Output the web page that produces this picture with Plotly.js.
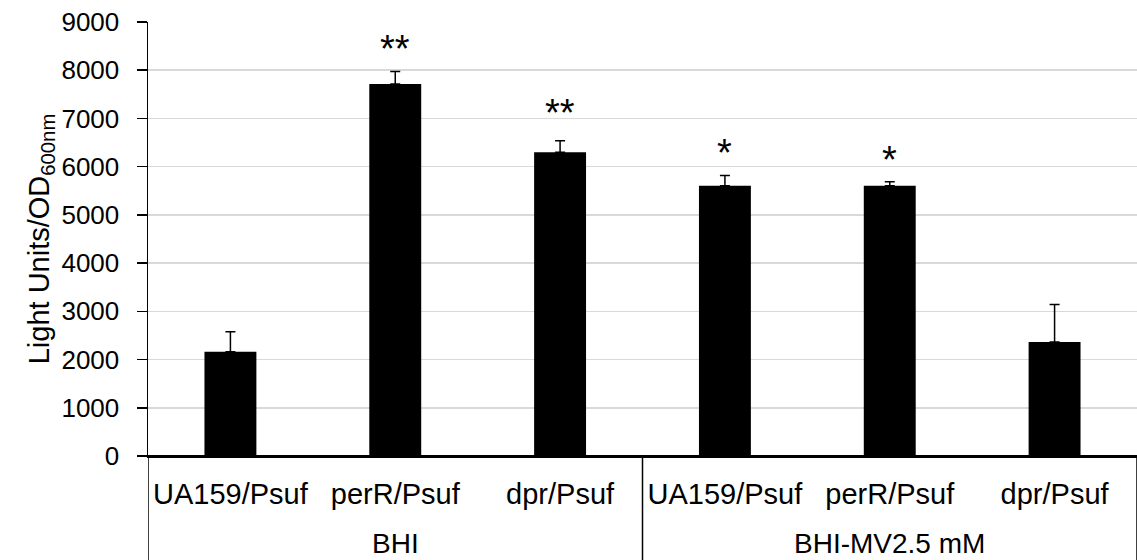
<!DOCTYPE html>
<html>
<head>
<meta charset="utf-8">
<script src="https://cdn.plot.ly/plotly-3.0.1.min.js"></script>
<style>
html,body{margin:0;padding:0;background:#fff;}
#chart{width:1137px;height:560px;}
</style>
</head>
<body>
<div id="chart"></div>
<script>
// ---- data ----
const groups = ['BHI', 'BHI', 'BHI', 'BHI-MV2.5 mM', 'BHI-MV2.5 mM', 'BHI-MV2.5 mM'];
const strains = ['UA159/Psuf', 'perR/Psuf', 'dpr/Psuf', 'UA159/Psuf', 'perR/Psuf', 'dpr/Psuf'];
const means = [2160, 7715, 6300, 5605, 5605, 2365];
const errPlus = [415, 260, 240, 210, 80, 775];
const sigLabels = ['', '**', '**', '*', '*', ''];
const sigY = [null, 8450, 7115, 6290, 6140, null];
const yTicks = [0, 1000, 2000, 3000, 4000, 5000, 6000, 7000, 8000, 9000];

const arial = 'Liberation Sans, Arial, sans-serif';
const pos = strains.map((_, i) => i);

const trace = {
  type: 'bar',
  x: pos,
  y: means,
  width: 0.315,
  marker: {color: '#000000', line: {width: 0}},
  error_y: {
    type: 'data',
    symmetric: false,
    array: errPlus,
    arrayminus: errPlus.map(() => 0),
    color: '#000000',
    thickness: 1.5,
    width: 5
  },
  hoverinfo: 'skip'
};

const annotations = [];
sigLabels.forEach((s, i) => {
  if (s) {
    annotations.push({
      x: pos[i], y: sigY[i], xref: 'x', yref: 'y',
      text: s, showarrow: false,
      xanchor: 'center', yanchor: 'middle',
      font: {family: arial, size: 38, color: '#000'}
    });
  }
});

// group labels and dividers derived from the groups array
const shapes = [];
const plotH = 560 - 22 - 104;
const bottomFrac = -104 / plotH;
let start = 0;
for (let i = 1; i <= groups.length; i++) {
  if (i === groups.length || groups[i] !== groups[start]) {
    annotations.push({
      x: (pos[start] + pos[i - 1]) / 2, y: 0, xref: 'x', yref: 'paper',
      yanchor: 'middle', xanchor: 'center', yshift: -87,
      text: groups[start], showarrow: false,
      font: {family: arial, size: 28, color: '#000'}
    });
    start = i;
  }
}
// boundaries
const bounds = [-0.5];
for (let i = 1; i < groups.length; i++) if (groups[i] !== groups[i - 1]) bounds.push(i - 0.5);
bounds.push(groups.length - 0.5);
bounds.forEach(b => shapes.push({
  type: 'line', xref: 'x', yref: 'paper', x0: b, x1: b, y0: 0, y1: bottomFrac,
  line: {color: '#000', width: 1.5}
}));

const layout = {
  width: 1137, height: 560,
  margin: {l: 148, r: 0, t: 22, b: 104},
  paper_bgcolor: '#ffffff',
  plot_bgcolor: '#ffffff',
  showlegend: false,
  xaxis: {
    range: [-0.5, 5.5],
    tickvals: pos,
    ticktext: strains,
    showline: true, linecolor: '#000', linewidth: 1.5,
    showgrid: false, zeroline: false,
    ticks: '', tickangle: 0,
    ticklabelstandoff: 12,
    tickfont: {family: arial, size: 29, color: '#000'}
  },
  yaxis: {
    range: [0, 9000],
    tickvals: yTicks,
    ticktext: yTicks.map(String),
    showline: true, linecolor: '#000', linewidth: 1.5,
    ticks: 'outside', ticklen: 10, tickwidth: 1.5, tickcolor: '#000',
    showgrid: true, gridcolor: '#d9d9d9', gridwidth: 1.5,
    zeroline: true, zerolinecolor: '#000', zerolinewidth: 1.5,
    ticklabelstandoff: 12,
    tickfont: {family: arial, size: 26, color: '#000'},
    title: {
      text: 'Light Units/OD<sub>600nm</sub>',
      font: {family: arial, size: 29, color: '#000'},
      standoff: 3
    }
  },
  shapes: shapes,
  annotations: annotations
};

Plotly.newPlot('chart', [trace], layout, {displayModeBar: false, staticPlot: true});
</script>
</body>
</html>
